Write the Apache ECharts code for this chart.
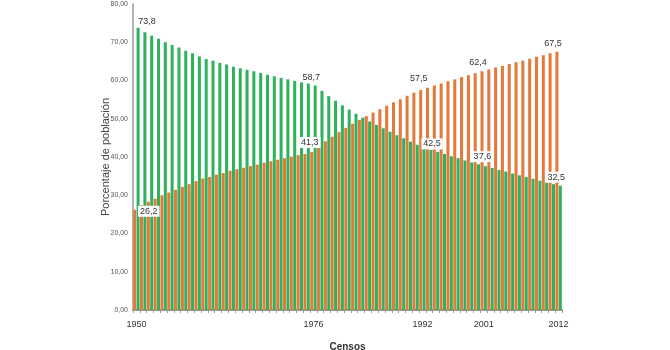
<!DOCTYPE html>
<html>
<head>
<meta charset="utf-8">
<script src="https://cdn.jsdelivr.net/npm/echarts@6/dist/echarts.min.js"></script>
<style>html,body{margin:0;padding:0;background:#fff}#c{width:670px;height:350px}</style>
</head>
<body>
<div id="c"></div>
<script>
var years = [];
for (var y = 1950; y <= 2012; y++) years.push(String(y));
var shownYears = ['1950', '1976', '1992', '2001', '2012'];
var yTicks = [0, 10, 20, 30, 40, 50, 60, 70, 80];

var rural = [73.8,72.6,71.7,70.9,70.0,69.3,68.6,67.8,67.1,66.3,
  65.6,65.2,64.6,64.2,63.6,63.2,62.8,62.4,62.0,61.5,
  61.1,60.7,60.3,59.9,59.5,59.2,58.7,57.3,55.9,54.7,
  53.5,52.4,51.3,50.3,49.3,48.4,47.5,46.6,45.7,44.9,
  44.0,43.2,42.5,41.9,41.3,40.8,40.2,39.7,39.1,38.6,
  38.1,37.6,37.1,36.6,36.2,35.7,35.2,34.8,34.3,33.8,
  33.4,32.9,32.5];
var urbana = [26.2,27.4,28.3,29.1,30.0,30.7,31.4,32.2,32.9,33.7,
  34.4,34.8,35.4,35.8,36.4,36.8,37.2,37.6,38.0,38.5,
  38.9,39.3,39.7,40.1,40.5,40.8,41.3,42.7,44.1,45.3,
  46.5,47.6,48.7,49.7,50.7,51.6,52.5,53.4,54.3,55.1,
  56.0,56.8,57.5,58.1,58.7,59.2,59.8,60.3,60.9,61.4,
  61.9,62.4,62.9,63.4,63.8,64.3,64.8,65.2,65.7,66.2,
  66.6,67.1,67.5];

var GREEN = '#2fb25b', ORANGE = '#e3793a';
var FONT = '"Liberation Sans Narrow", "Liberation Sans", Arial, sans-serif';

function fmt(v) { return v.toFixed(1).replace('.', ','); }

// label styling per labelled year (style only)
var urbLabels = {
  '1950': {offset: [14, 7], boxed: true},
  '1976': {offset: [-2, -4], boxed: true},
  '1992': {offset: [-2, -6], boxed: false},
  '2001': {offset: [-4, -3], boxed: false},
  '2012': {offset: [-4, -3], boxed: false}
};
var rurLabels = {
  '1950': {offset: [9, -1], boxed: false},
  '1976': {offset: [-4, -2], boxed: false},
  '1992': {offset: [8, 2], boxed: true},
  '2001': {offset: [-3, -4], boxed: true},
  '2012': {offset: [-4, -3], boxed: true}
};

function build(values, labels) {
  return values.map(function (v, i) {
    var l = labels[years[i]];
    if (!l) return v;
    return {
      value: v,
      label: {
        show: true, position: 'top', distance: 0, offset: l.offset,
        formatter: function (p) { return fmt(p.value); },
        fontFamily: FONT, fontSize: 9, color: '#333',
        backgroundColor: l.boxed ? '#fff' : 'transparent',
        padding: [1, 2]
      }
    };
  });
}

var chart = echarts.init(document.getElementById('c'), null, {renderer: 'canvas'});
chart.setOption({
  animation: false,
  backgroundColor: '#fff',
  grid: {left: 133, right: 108, top: 4, bottom: 40, containLabel: false, outerBoundsMode: 'none'},
  xAxis: {
    type: 'category',
    data: years,
    name: 'Censos',
    nameLocation: 'middle',
    nameGap: 32,
    nameMoveOverlap: false,
    nameTextStyle: {fontFamily: 'Liberation Sans, Arial, sans-serif', fontSize: 10, fontWeight: 'bold', color: '#333'},
    axisLine: {lineStyle: {color: '#9a9a9a', width: 2}},
    axisTick: {show: true, interval: 0, length: 3, lineStyle: {color: '#9a9a9a'}},
    axisLabel: {
      interval: function (idx, val) { return shownYears.indexOf(val) >= 0; },
      fontFamily: FONT, fontSize: 9, color: '#333', margin: 10
    },
    splitLine: {show: false}
  },
  yAxis: {
    type: 'value',
    min: yTicks[0], max: yTicks[yTicks.length - 1], interval: 10,
    name: 'Porcentaje de población',
    nameLocation: 'middle',
    nameGap: 22,
    nameRotate: 90,
    nameMoveOverlap: false,
    nameTextStyle: {fontFamily: 'Liberation Sans, Arial, sans-serif', fontSize: 11, color: '#444'},
    axisLine: {show: true, lineStyle: {color: '#9a9a9a', width: 1.5}},
    axisTick: {show: false},
    axisLabel: {
      formatter: function (v) { return v.toFixed(2).replace('.', ','); },
      fontFamily: FONT, fontSize: 7, color: '#555', margin: 5
    },
    splitLine: {show: false}
  },
  series: [
    {
      name: 'Urbana', type: 'bar', data: build(urbana, urbLabels),
      itemStyle: {color: ORANGE},
      barGap: '12%', barCategoryGap: '6%'
    },
    {
      name: 'Rural', type: 'bar', data: build(rural, rurLabels),
      itemStyle: {color: GREEN},
      barGap: '12%', barCategoryGap: '6%'
    }
  ]
});
</script>
</body>
</html>
